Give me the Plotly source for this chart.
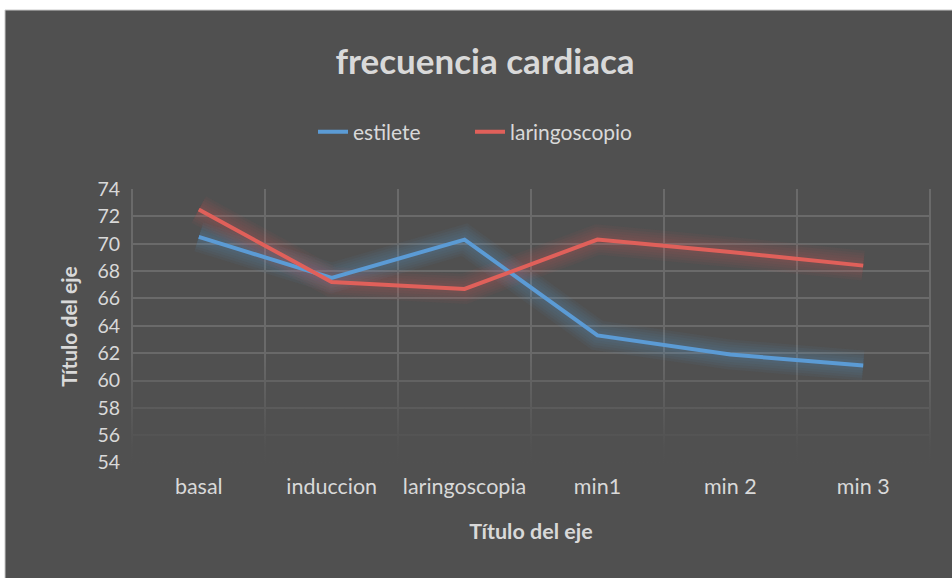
"""Frecuencia cardiaca line chart, Excel dark style."""

import plotly.graph_objects as go

CATEGORIES = ["basal", "induccion", "laringoscopia", "min1", "min 2", "min 3"]
ESTILETE = [70.5, 67.5, 70.3, 63.3, 61.9, 61.1]
LARINGOSCOPIO = [72.5, 67.2, 66.7, 70.3, 69.4, 68.4]
Y_TICKS = list(range(54, 75, 2))

BG_DARK = "#505050"
TEXT_LIGHT = "#d9d9d9"
GRID = "#6a6a6a"
BLUE = "#5b9bd5"
RED = "#e0605a"
FONT = "Lato, 'Open Sans', sans-serif"

W, H = 952, 578
L, R, T, B = 131, 21, 189, 114
PW, PH = W - L - R, H - T - B


def px_to_paper_x(px: float) -> float:
    return (px - L) / PW


def px_to_paper_y(py: float) -> float:
    return (H - B - py) / PH


fig = go.Figure()

# fade of the gridlines towards the bottom (hidden base subplot, drawn under the data subplot)
fig.add_scatter(
    x=[0, 1, 1, 0, 0],
    y=[0, 0, 0.42, 0.42, 0],
    mode="none",
    fill="toself",
    fillgradient={
        "type": "vertical",
        "colorscale": [[0, "rgba(80,80,80,1)"], [0.15, "rgba(80,80,80,0.95)"], [1, "rgba(80,80,80,0)"]],
        "start": 0,
        "stop": 0.42,
    },
    showlegend=False,
    hoverinfo="skip",
    xaxis="x",
    yaxis="y",
)

# soft glow under each line
for values, rgb in ((ESTILETE, "91,155,213"), (LARINGOSCOPIO, "224,96,90")):
    for width in (30, 25, 20, 15, 10):
        fig.add_scatter(
            x=CATEGORIES,
            y=values,
            mode="lines",
            line={"color": f"rgba({rgb},0.055)", "width": width},
            showlegend=False,
            hoverinfo="skip",
            xaxis="x2",
            yaxis="y2",
        )

fig.add_scatter(x=CATEGORIES, y=ESTILETE, mode="lines", name="estilete",
                line={"color": BLUE, "width": 4}, xaxis="x2", yaxis="y2", legend="legend")
fig.add_scatter(x=CATEGORIES, y=LARINGOSCOPIO, mode="lines", name="laringoscopio",
                line={"color": RED, "width": 4}, xaxis="x2", yaxis="y2", legend="legend2")

# dark chart-area box with a thin light border
fig.add_shape(
    type="rect",
    xref="paper",
    yref="paper",
    x0=px_to_paper_x(5),
    x1=px_to_paper_x(W + 2),
    y0=px_to_paper_y(H + 2),
    y1=px_to_paper_y(10),
    fillcolor=BG_DARK,
    line={"color": "#c8c8c8", "width": 1},
    layer="below",
)

legend_style = {
    "orientation": "h",
    "xanchor": "left",
    "y": px_to_paper_y(132),
    "yanchor": "middle",
    "font": {"size": 21, "color": TEXT_LIGHT},
    "bgcolor": "rgba(0,0,0,0)",
    "itemwidth": 30,
}

fig.update_layout(
    width=W,
    height=H,
    margin={"l": L, "r": R, "t": T, "b": B},
    paper_bgcolor="white",
    plot_bgcolor="rgba(0,0,0,0)",
    font={"family": FONT, "color": TEXT_LIGHT, "size": 20},
    title={
        "text": "<b>frecuencia cardiaca</b>",
        "x": px_to_paper_x(485),
        "xref": "paper",
        "xanchor": "center",
        "y": 1 - 62 / H,
        "yanchor": "middle",
        "font": {"size": 35, "color": TEXT_LIGHT},
    },
    legend={**legend_style, "x": px_to_paper_x(313)},
    legend2={**legend_style, "x": px_to_paper_x(470)},
    showlegend=True,
    xaxis={"range": [0, 1], "visible": False, "fixedrange": True},
    yaxis={"range": [0, 1], "visible": False, "fixedrange": True},
    xaxis2={
        "overlaying": "x",
        "side": "bottom",
        "type": "category",
        "range": [-0.51, 5.51],
        "tickson": "boundaries",
        "showgrid": True,
        "gridcolor": GRID,
        "gridwidth": 1.5,
        "ticks": "",
        "showline": False,
        "ticklabelstandoff": 7,
        "tickfont": {"size": 21.5, "color": TEXT_LIGHT},
        "title": {"text": "<b>Título del eje</b>", "font": {"size": 21.5, "color": TEXT_LIGHT}, "standoff": 26},
    },
    yaxis2={
        "overlaying": "y",
        "side": "left",
        "range": [53.9, 74],
        "tickvals": Y_TICKS,
        "showgrid": True,
        "gridcolor": GRID,
        "gridwidth": 1.5,
        "zeroline": False,
        "showline": False,
        "ticks": "",
        "ticklabelstandoff": 10,
        "tickfont": {"size": 19.5, "color": TEXT_LIGHT},
        "title": {"text": "<b>Título del eje</b>", "font": {"size": 21, "color": TEXT_LIGHT}, "standoff": 14},
    },
)

fig.write_html(
    "out.html",
    config={"displayModeBar": False},
    post_script="document.body.style.margin='0';",
)
